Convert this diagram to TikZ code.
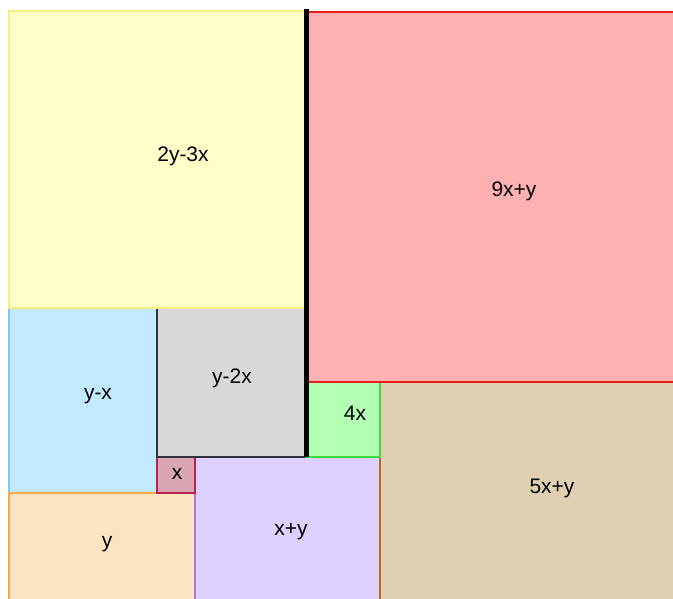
\documentclass[tikz,border=0pt]{standalone}
\usepackage{fontspec}
\setmainfont{Liberation Sans}
\definecolor{yelfill}{HTML}{FFFFC8}
\definecolor{yelline}{HTML}{F8EE80}
\definecolor{redfill}{HTML}{FFB0B0}
\definecolor{redline}{HTML}{E82020}
\definecolor{bluefill}{HTML}{C2E9FF}
\definecolor{blueline}{HTML}{80C8EE}
\definecolor{grayfill}{HTML}{D8D8D8}
\definecolor{grayline}{HTML}{303438}
\definecolor{pinkfill}{HTML}{D9A6B1}
\definecolor{pinkline}{HTML}{B8224E}
\definecolor{purpfill}{HTML}{DED0FF}
\definecolor{purpline}{HTML}{A878E0}
\definecolor{orfill}{HTML}{FCE3C1}
\definecolor{orline}{HTML}{F5AA48}
\definecolor{greenfill}{HTML}{B3FFB3}
\definecolor{greenline}{HTML}{38DC38}
\definecolor{tanfill}{HTML}{DFD0B2}
\definecolor{tanline}{HTML}{B06A22}

\begin{document}
\begin{tikzpicture}[x=1pt, y=-1pt, every node/.style={font=\fontsize{21}{23}\selectfont}, sq/.style={line width=1.2pt}]
\useasboundingbox (0,0) rectangle (673,599);
\clip (0,0) rectangle (673,599);
\fill[white] (0,0) rectangle (673,599);
% lower left part
\draw[sq, draw=blueline, fill=bluefill] (9,308) rectangle (157,493); \node (ymx) at (98,396) {y-x};
\draw[sq, draw=orline, fill=orfill] (9,493) rectangle (195,620); \node (yy) at (107,544) {y};
\draw[sq, draw=purpline, fill=purpfill] (195,457) rectangle (380,620); \node (xpy) at (291,532) {x+y};
\draw[sq, draw=pinkline, fill=pinkfill] (157,457) rectangle (195,493); \node (xx) at (177,474) {x};
\draw[sq, draw=grayline, fill=grayfill] (157,308) rectangle (306,457); \node (ym2x) at (232,378) {y-2x};
\draw[sq, draw=yelline, fill=yelfill] (9,11) rectangle (306,308); \node (tym3x) at (183,156) {2y-3x};
% right part
\draw[sq, draw=tanline, fill=tanfill] (380,382) rectangle (690,620); \node (fxpy) at (552,488) {5x+y};
\draw[sq, draw=greenline, fill=greenfill] (306,382) rectangle (380,457); \node (fx) at (355,413) {4x};
\draw[sq, draw=redline, fill=redfill] (306,12) rectangle (690,382); \node (nxpy) at (514,191) {9x+y};
% thick divider
\draw[line width=5pt] (306,9) -- (306,457);
\end{tikzpicture}
\end{document}
